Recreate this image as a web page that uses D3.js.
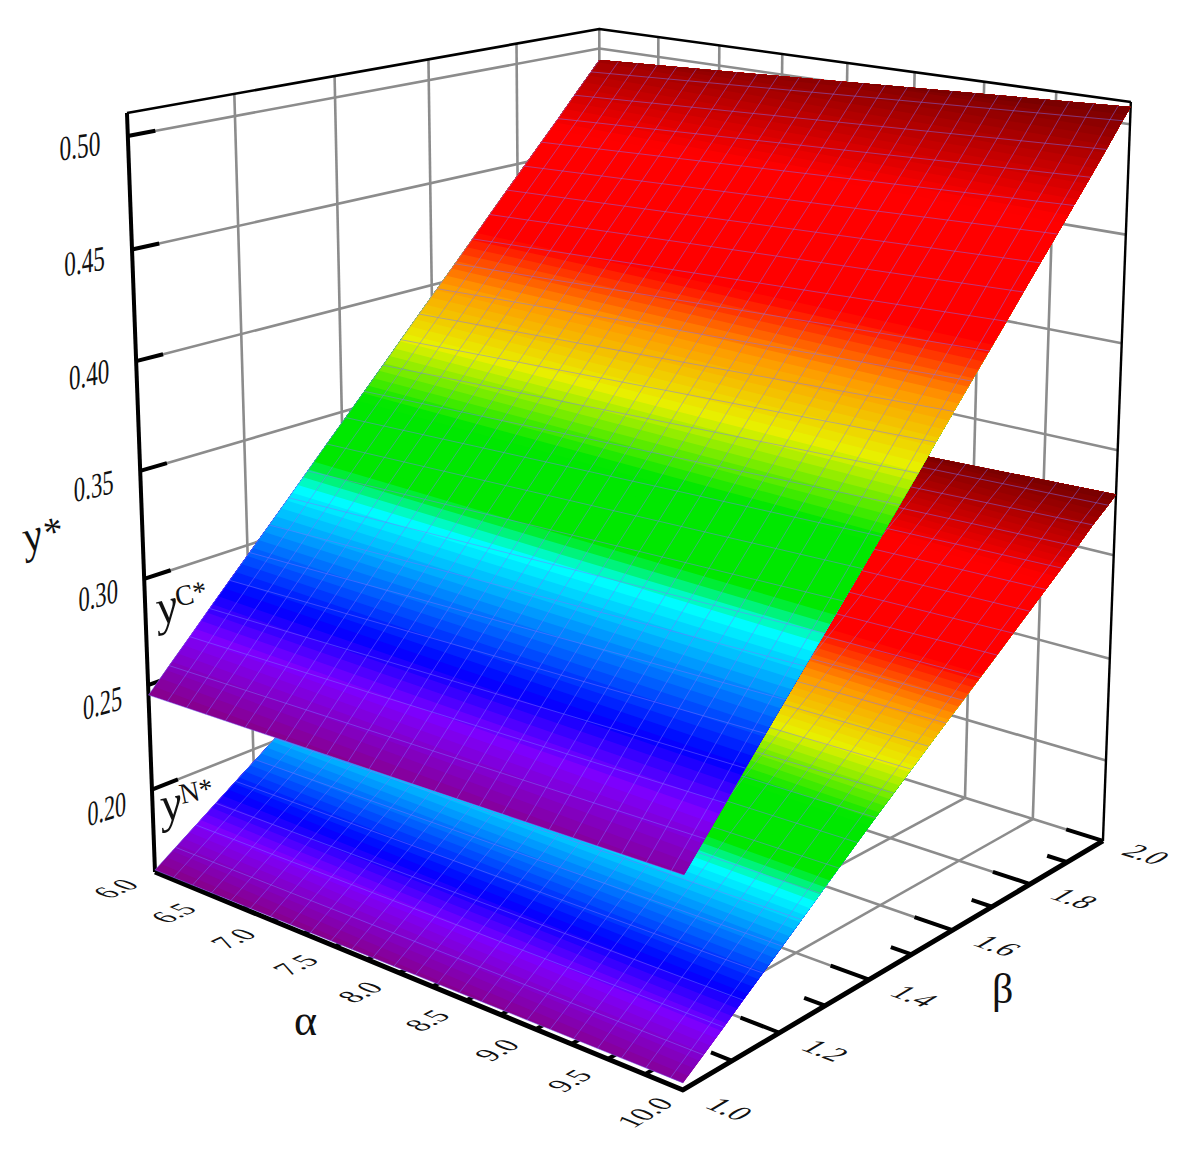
<!DOCTYPE html>
<html>
<head>
<meta charset="utf-8">
<script src="https://cdn.jsdelivr.net/npm/d3@7"></script>
<style>
html,body{margin:0;padding:0;background:#fff}
svg{display:block}
text{font-family:"Liberation Serif","Times New Roman",serif;fill:#111}
</style>
</head>
<body>
<svg id="chart" width="1184" height="1157"></svg>
<script>
// ---- Axis ranges and ticks
const alphaDomain = [6, 10];
const betaDomain = [1, 2];
const yDomain = [0.16, 0.51];
const alphaTicks = [6.0, 6.5, 7.0, 7.5, 8.0, 8.5, 9.0, 9.5, 10.0];
const alphaMinorTicks = [6.25, 6.75, 7.25, 7.75, 8.25, 8.75, 9.25, 9.75];
const betaTicks = [1.0, 1.2, 1.4, 1.6, 1.8, 2.0];
const betaMinorTicks = [1.1, 1.3, 1.5, 1.7, 1.9];
const yTicks = [0.20, 0.25, 0.30, 0.35, 0.40, 0.45, 0.50];

// ---- Surface samples: one y value per beta row, per alpha column
const alphaColumns = [6, 8, 10];
const betaRows = [1.000,1.041,1.082,1.122,1.163,1.204,1.245,1.286,1.326,1.367,1.408,1.449,1.490,1.530,1.571,1.612,1.653,1.694,1.734,1.775,1.816,1.857,1.898,1.938,1.979,2.000];
const alphaMesh = [6.000,6.163,6.327,6.490,6.653,6.816,6.980,7.143,7.306,7.469,7.633,7.796,7.959,8.122,8.286,8.449,8.612,8.775,8.939,9.102,9.265,9.429,9.592,9.755,9.918,10.000];

const yCat6  = [.2453,.2556,.2658,.2759,.2860,.2961,.3062,.3163,.3264,.3366,.3467,.3568,.3670,.3771,.3873,.3975,.4076,.4178,.4279,.4381,.4482,.4584,.4685,.4787,.4889,.4941];
const yCat8  = [.2479,.2584,.2688,.2792,.2895,.2997,.3100,.3202,.3304,.3407,.3510,.3612,.3716,.3819,.3922,.4026,.4129,.4232,.4335,.4438,.4541,.4645,.4748,.4851,.4957,.5009];
const yCat10 = [.2505,.2612,.2718,.2824,.2929,.3033,.3137,.3240,.3343,.3447,.3552,.3656,.3761,.3866,.3971,.4076,.4181,.4285,.4390,.4495,.4600,.4705,.4810,.4915,.5025,.5077];

const yNat6  = [.1610,.1677,.1744,.1811,.1878,.1945,.2012,.2080,.2148,.2216,.2284,.2350,.2416,.2481,.2546,.2610,.2674,.2737,.2800,.2863,.2926,.2988,.3050,.3112,.3176,.3210];
const yNat8  = [.1620,.1688,.1756,.1824,.1892,.1960,.2029,.2098,.2166,.2235,.2304,.2370,.2437,.2502,.2567,.2632,.2697,.2762,.2827,.2892,.2957,.3021,.3086,.3152,.3215,.3250];
const yNat10 = [.1630,.1699,.1768,.1837,.1906,.1976,.2046,.2116,.2185,.2255,.2324,.2391,.2458,.2523,.2589,.2655,.2721,.2788,.2854,.2921,.2988,.3054,.3122,.3193,.3255,.3290];

// ---- Colour map
const bandCount = 90;
const colorStops = [0, .085, .142, .285, .325, .415, .505, .59, .667, .837, 1];
const colorValues = ["#880088","#7d00ff","#0000ff","#00ffff","#00e800","#00e800","#e8f000","#ff9800","#ff0000","#ff0000","#750000"];

// ---- Labels
const alphaTitle = "α", betaTitle = "β";

// ---- Camera: a 3x4 projective matrix on the unit cube
const camU = [433.3, 545.4, -35.2, 155];
const camV = [66.9, -74.5, -765.4, 872];
const camW = [-.1386, .1665, -.0565, 1];

const aScale = d3.scaleLinear().domain(alphaDomain).range([0, 1]);
const bScale = d3.scaleLinear().domain(betaDomain).range([0, 1]);
const cScale = d3.scaleLinear().domain(yDomain).range([0, 1]);
const colorScale = d3.scaleLinear().domain(colorStops).range(colorValues).interpolate(d3.interpolateRgb);

function cube(a, b, c) {
  const w = camW[0]*a + camW[1]*b + camW[2]*c + camW[3];
  return [(camU[0]*a + camU[1]*b + camU[2]*c + camU[3]) / w,
          (camV[0]*a + camV[1]*b + camV[2]*c + camV[3]) / w];
}
const project = (alpha, beta, y) => cube(aScale(alpha), bScale(beta), cScale(y));
const line = d3.line();
const svg = d3.select("#chart");
const [aMin, aMax] = alphaDomain, [bMin, bMax] = betaDomain, [yMin, yMax] = yDomain;

function segs(group, cls, data, fn, stroke, width, cap) {
  group.selectAll("path." + cls).data(data).join("path").attr("class", cls)
    .attr("d", d => line(fn(d))).attr("fill", "none")
    .attr("stroke", stroke).attr("stroke-width", width)
    .attr("stroke-linecap", cap || "butt").attr("stroke-linejoin", "round");
}

// ---- Walls and floor grid
const grid = svg.append("g");
const GREY = "#8c8c8c", GW = 2.6;
segs(grid, "yl", yTicks, y => [project(aMin,bMin,y), project(aMin,bMax,y)], GREY, GW);
segs(grid, "yb", yTicks, y => [project(aMin,bMax,y), project(aMax,bMax,y)], GREY, GW);
const betaInner = betaTicks.slice(1);
const alphaInner = alphaTicks.slice(0, -1);
segs(grid, "vl", betaInner, b => [project(aMin,b,yMin), project(aMin,b,yMax)], GREY, GW);
segs(grid, "vb", alphaInner.slice(1), a => [project(a,bMax,yMin), project(a,bMax,yMax)], GREY, GW);
segs(grid, "fb", betaInner, b => [project(aMin,b,yMin), project(aMax,b,yMin)], GREY, GW);
segs(grid, "fa", alphaInner, a => [project(a,bMin,yMin), project(a,bMax,yMin)], GREY, GW);

// ---- Frame, axes and ticks
const frame = svg.append("g");
segs(frame, "top", [0], () => [project(aMin,bMin,yMax), project(aMin,bMax,yMax), project(aMax,bMax,yMax)], "#000", 2.6);
segs(frame, "rv", [0], () => [project(aMax,bMax,yMin), project(aMax,bMax,yMax)], "#000", 2.4);
segs(frame, "lv", [0], () => [project(aMin,bMin,yMin), project(aMin,bMin,yMax)], "#000", 4);
segs(frame, "ty", yTicks, y => [project(aMin,bMin,y), project(aMin,1.05,y)], "#000", 4);
segs(frame, "ta", alphaTicks.slice(1,-1), a => [project(a,bMin,yMin), project(a,1.05,yMin)], "#000", 4);
segs(frame, "tn", alphaMinorTicks, a => [project(a,bMin,yMin), project(a,1.025,yMin)], "#000", 4);
segs(frame, "tb", betaTicks.slice(1), b => [project(aMax,b,yMin), project(9.74,b,yMin)], "#000", 4);
segs(frame, "tm", betaMinorTicks, b => [project(aMax,b,yMin), project(9.86,b,yMin)], "#000", 4);
segs(frame, "ax", [0], () => [project(aMin,bMin,yMin), project(aMax,bMin,yMin), project(aMax,bMax,yMin)], "#000", 5);

// ---- Surfaces
function drawSurface(columns) {
  const g = svg.append("g");
  const zColumn = columns.map(col => d3.scaleLinear().domain(betaRows).range(col));
  const betaAtZ = columns.map(col => d3.scaleLinear().domain(col).range(betaRows).clamp(true));
  const zAcross = beta => d3.scaleLinear().domain(alphaColumns).range(zColumn.map(s => s(beta)));
  const pt = (alpha, beta) => project(alpha, beta, zAcross(beta)(alpha));
  const lo = d3.min(columns, c => c[0]), hi = d3.max(columns, c => c[c.length-1]);
  const levels = d3.range(bandCount);

  g.selectAll("path.band").data(levels).join("path").attr("class", "band")
    .attr("d", k => {
      const T = lo + (hi - lo) * k / bandCount;
      const iso = betaAtZ.map(f => f(T));
      const first = iso[0], last = iso[iso.length-1];
      const pts = alphaColumns.map((a, i) => project(a, iso[i], zColumn[i](iso[i])));
      betaRows.filter(b => b > last).forEach(b => pts.push(project(alphaColumns[2], b, zColumn[2](b))));
      alphaColumns.slice().reverse().slice(1).forEach((a, i) => pts.push(project(a, bMax, zColumn[1-i](bMax))));
      betaRows.filter(b => b > first).reverse().forEach(b => pts.push(project(alphaColumns[0], b, zColumn[0](b))));
      return line(pts) + "Z";
    })
    .attr("fill", k => colorScale((k + .5) / bandCount));

  const meshStyle = s => s.attr("fill", "none").attr("stroke", "#7c74ff")
    .attr("stroke-opacity", .6).attr("stroke-width", .8);
  g.selectAll("path.rowline").data(betaRows.slice(0, -1)).join("path").attr("class", "rowline")
    .attr("d", b => line(alphaColumns.map(a => pt(a, b)))).call(meshStyle);
  g.selectAll("path.colline").data(alphaMesh.slice(0, -1)).join("path").attr("class", "colline")
    .attr("d", a => line(betaRows.map(b => pt(a, b)))).call(meshStyle);
}
drawSurface([yNat6, yNat8, yNat10]);
drawSurface([yCat6, yCat8, yCat10]);

// ---- Text lying in the chart's planes
function unit(p, q) { const dx = q[0]-p[0], dy = q[1]-p[1], l = Math.hypot(dx,dy); return [dx/l, dy/l]; }
const labels = svg.append("g");
function planeText(list, posFn, basisFn, size, sx, sy, fmt, dy) {
  labels.selectAll(null).data(list).join("text")
    .attr("text-anchor", "middle").attr("font-size", size).attr("y", dy)
    .attr("transform", d => {
      const p = posFn(d), [u, v] = basisFn(d);
      return `matrix(${u[0]*sx},${u[1]*sx},${v[0]*sy},${v[1]*sy},${p[0]},${p[1]})`;
    })
    .text(fmt);
}
// y labels on the left wall
planeText(yTicks, y => { const p = project(aMin, .915, y); return [p[0], p[1]+2]; },
  y => {
    const u = unit(project(aMin,1,y), project(aMin,1.3,y));
    return [[u[0], u[1]*.78], [0, 1]];
  }, 35, .68, 1, d => d.toFixed(2), 11);
// alpha labels on the floor
planeText(alphaTicks, a => project(a, .925, yMin),
  a => [unit(project(a,1,yMin), project(a,1.2,yMin)), unit(project(a,1,yMin), project(a+.5,1,yMin))],
  30, .92, 1, d => d.toFixed(1), 10);
// beta labels on the floor
planeText(betaTicks, b => project(10.3, b, yMin),
  b => [unit(project(10,b,yMin), project(10.5,b,yMin)), unit(project(10,b+.2,yMin), project(10,b,yMin))],
  30, 1, 1, d => d.toFixed(1), 10);

// ---- Titles
function title(x, y, rot, sx, parts) {
  const t = labels.append("text").attr("transform", `translate(${x},${y}) rotate(${rot}) scale(${sx},1)`);
  parts.forEach(p => t.append("tspan").text(p.s).attr("font-size", p.fs).attr("font-style", p.i ? "italic" : "normal")
    .attr("dy", p.dy || 0).attr("dx", p.dx || 0));
}
title(294, 1035, 0, 1, [{s: alphaTitle, fs: 44}]);
title(992, 1003, 0, 1, [{s: betaTitle, fs: 42}]);
title(27, 553, -16, .95, [{s: "y", fs: 46, i: true}, {s: "*", fs: 40, dx: 3}]);
title(160, 625, -13, .95, [{s: "y", fs: 50, i: true}, {s: "C*", fs: 29, dy: -14}]);
title(164, 822, -12, .95, [{s: "y", fs: 50, i: true}, {s: "N*", fs: 29, dy: -14}]);
</script>
</body>
</html>
